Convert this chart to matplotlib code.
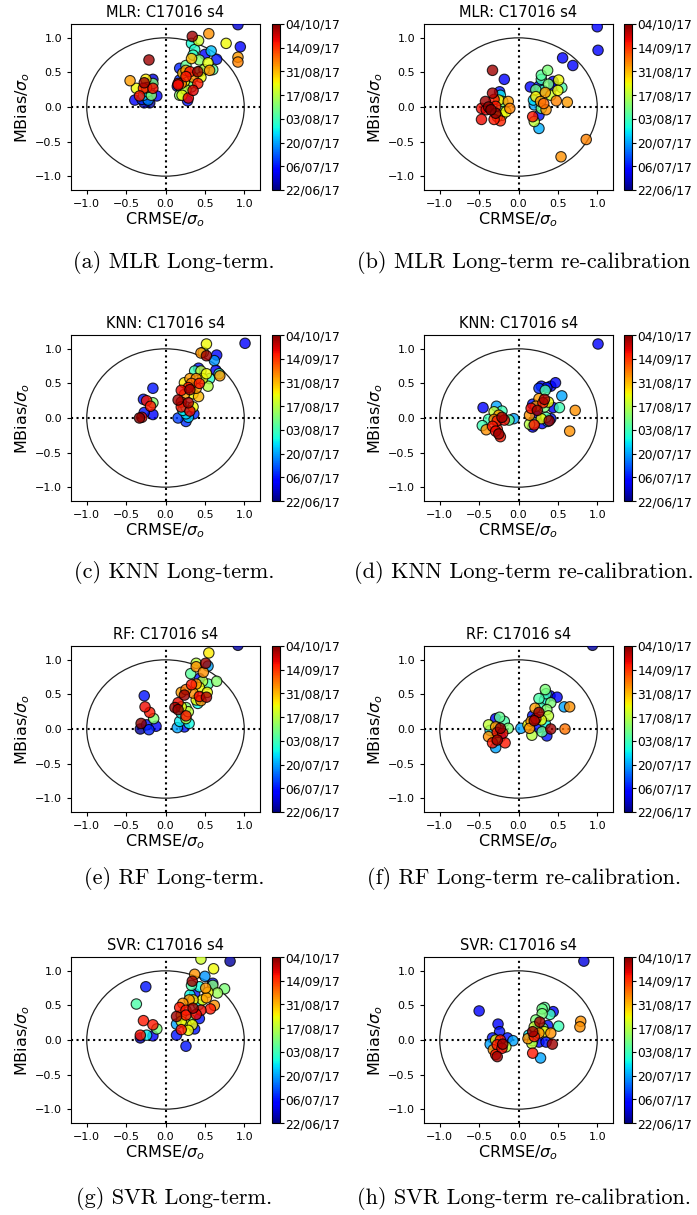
import numpy as np
import matplotlib
matplotlib.use('Agg')
import matplotlib.pyplot as plt
from matplotlib.patches import Circle

# Colour bar: date of each sample (index 0..7 on the colour scale)
date_labels = ['22/06/17', '06/07/17', '20/07/17', '03/08/17',
               '17/08/17', '31/08/17', '14/09/17', '04/10/17']

# (a) MLR long-term
mlr_lt_x = [0.92, 0.95, 0.55, 0.77, 0.92, 0.92, 0.34, 0.42, 0.33, 0.37, 0.50, 0.58, 0.65,
            0.35, 0.43, 0.33, 0.26, 0.54, 0.56, 0.49, 0.60, 0.43, 0.18, 0.26, 0.31, 0.41,
            0.22, 0.26, 0.35, 0.45, 0.18, 0.24, 0.20, 0.16, 0.15, 0.31, 0.41, 0.20, 0.26,
            0.33, 0.35, 0.21, 0.29, 0.28, 0.18, 0.16,
            -0.21, -0.45, -0.39, -0.33, -0.37, -0.25, -0.27, -0.16, -0.16, -0.20, -0.24,
            -0.16, -0.28, -0.23, -0.28, -0.18, -0.11, -0.24, -0.27, -0.20, -0.30, -0.22]
mlr_lt_y = [1.19, 0.87, 1.06, 0.92, 0.72, 0.65, 1.02, 0.96, 0.92, 0.83, 0.76, 0.81, 0.69,
            0.75, 0.68, 0.70, 0.60, 0.64, 0.53, 0.54, 0.54, 0.51, 0.56, 0.53, 0.51, 0.51,
            0.49, 0.44, 0.43, 0.43, 0.39, 0.37, 0.34, 0.32, 0.30, 0.34, 0.34, 0.27, 0.25,
            0.29, 0.24, 0.17, 0.13, 0.09, 0.17, 0.34,
            0.68, 0.38, 0.10, 0.16, 0.27, 0.40, 0.35, 0.40, 0.34, 0.29, 0.28,
            0.27, 0.27, 0.22, 0.17, 0.17, 0.16, 0.12, 0.06, 0.06, 0.11, 0.10]
mlr_lt_c = [0.5, 0.8, 5.3, 4.5, 5.2, 5.4, 6.8, 4.2, 2.7, 2.8, 0.9, 2.2, 1.0,
            2.9, 3.6, 5.0, 3.3, 4.4, 5.3, 4.0, 3.2, 3.6, 1.1, 5.2, 6.2, 6.8,
            5.0, 6.2, 5.3, 4.5, 1.2, 4.6, 5.5, 6.3, 1.0, 3.5, 6.2, 2.6, 4.1,
            3.0, 6.4, 4.4, 6.3, 1.0, 3.6, 6.2,
            6.8, 5.2, 0.8, 6.2, 4.5, 4.6, 6.8, 0.6, 3.5, 3.0, 5.3,
            6.3, 6.1, 2.5, 2.3, 3.6, 0.8, 1.0, 0.3, 0.2, 1.2, 1.8]

# (b) MLR long-term re-calibration
mlr_rc_x = [1.00, 1.01, 0.56, 0.69, 0.86, 0.54, 0.62, 0.37, 0.29, 0.29, 0.51, 0.44, 0.45,
            0.55, 0.38, 0.26, 0.15, 0.22, 0.31, 0.34, 0.50, 0.41, 0.22, 0.19, 0.28, 0.32,
            0.48, 0.20, 0.29, 0.35, 0.26, 0.18, 0.20, 0.26,
            -0.33, -0.18, -0.24, -0.23, -0.33, -0.42, -0.31, -0.25, -0.20, -0.13, -0.38,
            -0.47, -0.29, -0.21, -0.11, -0.35, -0.29, -0.47, -0.31, -0.23, -0.21, -0.16,
            -0.27, -0.41]
mlr_rc_y = [1.16, 0.82, 0.71, 0.60, -0.47, -0.72, 0.07, 0.53, 0.46, 0.40, 0.39, 0.37, 0.30,
            0.28, 0.33, 0.30, 0.29, 0.25, 0.24, 0.21, 0.24, 0.17, 0.15, 0.10, 0.08, 0.05,
            0.09, 0.03, -0.02, -0.04, -0.12, -0.14, -0.21, -0.31,
            0.53, 0.40, 0.22, 0.17, 0.20, 0.08, 0.11, 0.10, 0.08, 0.08, 0.00,
            -0.02, 0.01, 0.00, -0.02, -0.04, -0.09, -0.18, -0.18, -0.20, -0.12, -0.07,
            -0.14, -0.04]
mlr_rc_c = [0.8, 0.8, 0.8, 0.9, 5.4, 5.3, 5.2, 3.5, 3.2, 3.0, 4.5, 0.8, 0.9,
            3.1, 3.5, 1.0, 0.9, 3.4, 3.0, 5.2, 4.5, 4.2, 4.6, 2.4, 5.2, 5.6,
            5.4, 2.0, 3.4, 5.3, 1.0, 6.2, 4.1, 2.1,
            6.8, 0.8, 1.0, 2.5, 6.7, 6.8, 6.2, 4.6, 3.6, 5.2, 6.9,
            6.3, 6.2, 3.5, 5.4, 7.0, 6.9, 6.3, 6.2, 6.1, 4.2, 4.5,
            5.3, 6.4]

# (c) KNN long-term
knn_lt_x = [1.01, 0.52, 0.45, 0.52, 0.48, 0.65, 0.62, 0.64, 0.68, 0.69, 0.37, 0.42, 0.45,
            0.52, 0.56, 0.39, 0.31, 0.47, 0.24, 0.33, 0.43, 0.54, 0.39, 0.29, 0.20, 0.31,
            0.35, 0.42, 0.24, 0.16, 0.20, 0.29, 0.26, 0.20, 0.35, 0.22, 0.31, 0.36, 0.26,
            0.16, 0.26, 0.29,
            -0.16, -0.28, -0.24, -0.16, -0.19, -0.33, -0.30, -0.27, -0.16]
knn_lt_y = [1.08, 1.07, 0.94, 0.90, 0.95, 0.91, 0.83, 0.69, 0.64, 0.61, 0.68, 0.72, 0.68,
            0.64, 0.57, 0.57, 0.57, 0.57, 0.51, 0.50, 0.50, 0.46, 0.43, 0.44, 0.40, 0.41,
            0.35, 0.31, 0.34, 0.26, 0.23, 0.22, 0.16, 0.16, 0.16, 0.11, 0.10, 0.06, 0.06,
            0.00, -0.05, 0.01,
            0.43, 0.27, 0.25, 0.22, 0.17, 0.00, 0.01, 0.08, 0.05]
knn_lt_c = [0.8, 4.5, 5.3, 6.8, 3.6, 0.9, 1.9, 0.8, 3.0, 5.2, 3.0, 1.0, 4.1,
            4.5, 2.8, 5.3, 5.2, 4.4, 4.6, 5.5, 6.2, 4.0, 5.2, 6.2, 6.3, 6.8,
            4.5, 5.0, 5.2, 6.8, 6.2, 6.7, 2.6, 6.2, 4.5, 2.5, 6.3, 1.2, 2.4,
            1.3, 1.2, 2.3,
            1.0, 1.0, 6.2, 3.6, 6.2, 7.0, 6.3, 1.0, 0.8]

# (d) KNN long-term re-calibration
knn_rc_x = [1.01, 0.47, 0.29, 0.36, 0.41, 0.34, 0.26, 0.55, 0.72, 0.65, 0.52, 0.44, 0.18,
            0.26, 0.33, 0.38, 0.31, 0.22, 0.16, 0.24, 0.33, 0.14, 0.22, 0.29, 0.35, 0.41,
            0.39, 0.20, 0.14, 0.20, 0.30, 0.37, 0.18,
            -0.45, -0.28, -0.21, -0.31, -0.25, -0.38, -0.31, -0.27, -0.18, -0.46, -0.41,
            -0.33, -0.27, -0.29, -0.25, -0.23, -0.12, -0.06, -0.21]
knn_rc_y = [1.07, 0.51, 0.46, 0.44, 0.46, 0.40, 0.43, 0.32, 0.11, -0.19, 0.15, 0.15, 0.20,
            0.28, 0.27, 0.23, 0.22, 0.17, 0.14, 0.11, 0.16, 0.04, 0.04, -0.01, 0.01, -0.01,
            -0.04, -0.07, -0.09, -0.10, -0.08, -0.05, -0.13,
            0.15, 0.17, 0.10, 0.09, 0.04, -0.02, -0.02, -0.04, -0.03, -0.11, -0.17,
            -0.12, -0.16, -0.19, -0.23, -0.27, -0.03, -0.01, 0.01]
knn_rc_c = [0.8, 0.9, 0.9, 1.0, 0.8, 3.1, 1.2, 2.0, 5.3, 5.3, 3.0, 0.8, 1.0,
            5.2, 6.8, 4.5, 6.2, 5.3, 6.3, 6.8, 3.5, 5.3, 0.8, 4.5, 3.1, 1.0,
            6.8, 3.5, 4.0, 6.2, 0.9, 1.9, 0.9,
            0.8, 2.0, 3.0, 4.1, 5.2, 3.0, 5.4, 6.2, 6.3, 3.0, 5.3,
            6.2, 6.1, 6.3, 6.8, 6.2, 3.3, 2.0, 6.8]

# (e) RF long-term
rf_lt_x = [0.92, 0.55, 0.39, 0.39, 0.54, 0.51, 0.48, 0.32, 0.43, 0.65, 0.47, 0.54, 0.39,
           0.33, 0.26, 0.43, 0.53, 0.20, 0.24, 0.35, 0.43, 0.52, 0.39, 0.45, 0.41, 0.16,
           0.12, 0.20, 0.26, 0.16, 0.20, 0.26, 0.29, 0.18, 0.26, 0.15, 0.24, 0.30,
           -0.27, -0.26, -0.20, -0.15, -0.31, -0.32, -0.24, -0.21, -0.12]
rf_lt_y = [1.21, 1.10, 0.95, 0.90, 0.91, 0.95, 0.82, 0.80, 0.73, 0.69, 0.69, 0.65, 0.65,
           0.64, 0.57, 0.60, 0.53, 0.53, 0.49, 0.52, 0.47, 0.46, 0.42, 0.41, 0.37, 0.38,
           0.31, 0.32, 0.31, 0.28, 0.23, 0.19, 0.25, 0.11, 0.15, 0.02, 0.03, 0.08,
           0.48, 0.32, 0.24, 0.15, 0.08, 0.00, 0.06, -0.01, 0.04]
rf_lt_c = [0.2, 4.6, 4.0, 5.3, 2.0, 6.8, 5.3, 3.2, 1.0, 3.6, 4.0, 3.1, 5.3,
           6.2, 5.5, 4.5, 4.5, 5.2, 6.8, 5.3, 6.3, 6.7, 4.5, 5.3, 2.6, 6.3,
           6.8, 4.5, 3.5, 6.9, 2.6, 6.2, 4.1, 2.5, 4.0, 2.0, 1.0, 2.6,
           1.0, 6.3, 6.2, 3.6, 6.9, 0.2, 1.0, 1.1, 0.9]

# (f) RF long-term re-calibration
rf_rc_x = [0.94, 0.34, 0.26, 0.33, 0.40, 0.49, 0.35, 0.41, 0.58, 0.65, 0.21, 0.28, 0.18,
           0.26, 0.22, 0.36, 0.38, 0.16, 0.20, 0.29, 0.34, 0.12, 0.03, 0.14, 0.26, 0.30,
           0.41, 0.17, 0.36, 0.59,
           -0.29, -0.24, -0.18, -0.38, -0.29, -0.23, -0.13, -0.36, -0.27, -0.20, -0.38,
           -0.29, -0.33, -0.27, -0.17, -0.29, -0.23]
rf_rc_y = [1.21, 0.57, 0.44, 0.42, 0.48, 0.46, 0.51, 0.38, 0.32, 0.32, 0.30, 0.31, 0.19,
           0.24, 0.15, 0.28, 0.19, 0.11, 0.12, 0.13, 0.08, 0.06, 0.01, 0.01, 0.02, -0.04,
           0.00, -0.09, -0.10, 0.00,
           0.15, 0.17, 0.11, 0.06, 0.03, 0.01, 0.01, -0.02, -0.05, -0.06, -0.11,
           -0.14, -0.20, -0.16, -0.20, -0.27, -0.11]
rf_rc_c = [0.2, 3.5, 3.1, 2.6, 0.8, 0.9, 3.0, 3.5, 2.0, 5.3, 5.2, 3.0, 1.0,
           6.8, 6.2, 3.6, 4.1, 5.3, 6.8, 4.5, 2.6, 4.5, 2.0, 5.3, 1.0, 3.3,
           6.8, 4.0, 1.0, 5.5,
           0.8, 3.3, 3.1, 4.1, 5.2, 6.9, 3.5, 2.5, 6.2, 6.3, 5.3,
           4.5, 6.2, 6.8, 6.2, 2.0, 0.9]

# (g) SVR long-term
svr_lt_x = [0.82, 0.45, 0.61, 0.37, 0.50, 0.34, 0.33, 0.43, 0.60, 0.60, 0.75, 0.66, 0.51,
            0.54, 0.37, 0.31, 0.52, 0.47, 0.30, 0.22, 0.35, 0.42, 0.62, 0.57, 0.18, 0.26,
            0.35, 0.45, 0.20, 0.26, 0.39, 0.43, 0.14, 0.31, 0.20, 0.14, 0.26, 0.34, 0.20,
            0.29, 0.37, 0.14, 0.26,
            -0.25, -0.37, -0.28, -0.16, -0.11, -0.32, -0.24, -0.16, -0.32]
svr_lt_y = [1.14, 1.17, 1.03, 0.95, 0.92, 0.85, 0.79, 0.77, 0.82, 0.79, 0.74, 0.68, 0.75,
            0.69, 0.67, 0.65, 0.61, 0.58, 0.58, 0.53, 0.58, 0.51, 0.50, 0.45, 0.47, 0.43,
            0.46, 0.43, 0.36, 0.36, 0.37, 0.31, 0.34, 0.30, 0.27, 0.23, 0.23, 0.22, 0.15,
            0.14, 0.16, 0.07, -0.09,
            0.77, 0.52, 0.28, 0.22, 0.16, 0.07, 0.07, 0.06, 0.03]
svr_lt_c = [0.2, 4.2, 4.5, 5.3, 1.9, 6.8, 3.1, 2.6, 1.0, 3.6, 3.5, 3.8, 5.3,
            4.5, 1.0, 2.6, 5.2, 4.5, 5.3, 5.3, 4.6, 2.6, 5.3, 6.2, 6.2, 6.2,
            6.8, 6.3, 4.5, 6.2, 6.3, 1.0, 6.8, 3.5, 4.5, 2.0, 4.1, 4.5, 6.2,
            4.5, 1.0, 1.0, 1.0,
            1.0, 3.1, 6.2, 6.2, 3.5, 6.2, 2.5, 0.8, 0.3]

# (h) SVR long-term re-calibration
svr_rc_x = [0.83, 0.79, 0.78, 0.51, 0.44, 0.30, 0.33, 0.30, 0.40, 0.22, 0.27, 0.37, 0.20,
            0.31, 0.18, 0.26, 0.33, 0.41, 0.13, 0.20, 0.12, 0.18, 0.26, 0.35, 0.43, 0.17,
            0.18, 0.28, 0.22,
            -0.50, -0.26, -0.24, -0.33, -0.29, -0.23, -0.14, -0.07, -0.36, -0.27, -0.20,
            -0.32, -0.21, -0.29, -0.27, -0.16]
svr_rc_y = [1.14, 0.27, 0.19, 0.20, 0.41, 0.45, 0.47, 0.38, 0.37, 0.29, 0.26, 0.21, 0.19,
            0.17, 0.12, 0.10, 0.12, 0.10, 0.07, 0.05, 0.02, -0.01, -0.03, -0.03, -0.06, -0.05,
            -0.19, -0.26, 0.14,
            0.42, 0.23, 0.12, 0.03, 0.00, 0.00, 0.03, -0.01, -0.06, -0.07, -0.06,
            -0.14, -0.12, -0.21, -0.24, -0.10]
svr_rc_c = [0.6, 5.3, 5.3, 3.0, 0.9, 3.4, 3.2, 3.5, 3.0, 3.5, 6.8, 1.0, 4.1,
            3.5, 6.8, 5.3, 4.5, 5.3, 2.5, 6.2, 5.3, 3.0, 0.9, 1.0, 6.8, 4.1,
            6.2, 2.0, 2.6,
            0.8, 0.9, 1.0, 1.0, 4.5, 6.2, 1.0, 2.0, 2.0, 6.2, 6.8,
            5.3, 6.3, 6.2, 6.8, 4.0]

# Figure geometry in pixels (dpi 100)
W, H = 697, 1215
AX_W, AX_H = 189, 166
COL_LEFT = [71, 424]
CBAR_LEFT = [272, 624]
ROW_TOP = [24, 335, 646, 957]
CAPTION_X = [174, 524]
CAPTION_Y = [262, 572, 879, 1199]


def px_axes(fig, left, top, width, height):
    return fig.add_axes([left / W, 1 - (top + height) / H, width / W, height / H])


def plot_panel(fig, row, col, model, caption, x, y, c):
    ax = px_axes(fig, COL_LEFT[col], ROW_TOP[row], AX_W, AX_H)
    x, y, c = np.asarray(x), np.asarray(y), np.asarray(c)
    # Later dates drawn on top
    order = np.argsort(c, kind='stable')
    sc = ax.scatter(x[order], y[order], c=c[order], cmap='jet', vmin=0, vmax=7,
                    s=56, edgecolors='k', linewidths=0.8, alpha=0.8, zorder=3)
    ax.add_patch(Circle((0, 0), 1.0, fill=False, color='#222222', lw=0.9, zorder=2))
    ax.axhline(0, color='k', ls=':', lw=1.5, zorder=2)
    ax.axvline(0, color='k', ls=':', lw=1.5, zorder=2)

    ax.set_xlim(-1.2, 1.2)
    ax.set_ylim(-1.2, 1.2)
    ax.set_xticks([-1.0, -0.5, 0.0, 0.5, 1.0])
    ax.set_yticks([-1.0, -0.5, 0.0, 0.5, 1.0])
    ax.tick_params(labelsize=8, length=3)
    ax.set_xlabel(r'CRMSE/$\sigma_o$', fontsize=11.5, labelpad=1)
    ax.set_ylabel(r'MBias/$\sigma_o$', fontsize=11.5, labelpad=2)
    ax.set_title(f'{model}: C17016 s4', fontsize=10.5, pad=5)

    cax = px_axes(fig, CBAR_LEFT[col], ROW_TOP[row], 8, AX_H)
    cb = fig.colorbar(sc, cax=cax, ticks=range(len(date_labels)))
    cb.solids.set_alpha(1)
    cb.ax.set_yticklabels(date_labels)
    cb.ax.tick_params(labelsize=8.8, length=3, pad=1)

    fig.text(CAPTION_X[col] / W, 1 - CAPTION_Y[row] / H, caption,
             ha='center', va='center', family='cmr10', fontsize=16)


fig = plt.figure(figsize=(W / 100, H / 100), dpi=100)

panels = [
    (0, 0, 'MLR', '(a) MLR Long-term.', mlr_lt_x, mlr_lt_y, mlr_lt_c),
    (0, 1, 'MLR', '(b) MLR Long-term re-calibration', mlr_rc_x, mlr_rc_y, mlr_rc_c),
    (1, 0, 'KNN', '(c) KNN Long-term.', knn_lt_x, knn_lt_y, knn_lt_c),
    (1, 1, 'KNN', '(d) KNN Long-term re-calibration.', knn_rc_x, knn_rc_y, knn_rc_c),
    (2, 0, 'RF', '(e) RF Long-term.', rf_lt_x, rf_lt_y, rf_lt_c),
    (2, 1, 'RF', '(f) RF Long-term re-calibration.', rf_rc_x, rf_rc_y, rf_rc_c),
    (3, 0, 'SVR', '(g) SVR Long-term.', svr_lt_x, svr_lt_y, svr_lt_c),
    (3, 1, 'SVR', '(h) SVR Long-term re-calibration.', svr_rc_x, svr_rc_y, svr_rc_c),
]
for row, col, model, caption, x, y, c in panels:
    plot_panel(fig, row, col, model, caption, x, y, c)

fig.savefig('out.png', dpi=100)
